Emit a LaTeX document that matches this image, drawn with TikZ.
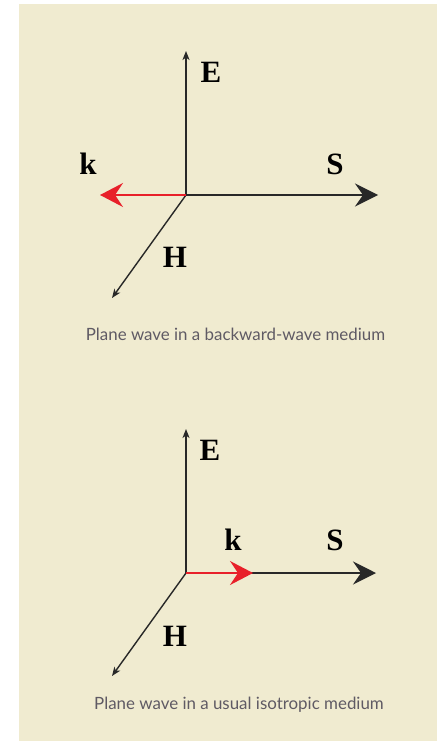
\documentclass[tikz,border=0pt]{standalone}
\usepackage{fontspec}
\setmainfont{Liberation Serif}
\newfontfamily\capfont{Lato}
\usetikzlibrary{arrows.meta}
\definecolor{panel}{RGB}{240,235,208}
\definecolor{axis}{RGB}{40,40,40}
\definecolor{kred}{RGB}{232,32,42}
\definecolor{captxt}{RGB}{95,90,100}
\tikzset{
  vec/.style={draw=axis, line width=1.4pt},
  smalltip/.style={-{Stealth[length=9pt,width=7pt,inset=2.5pt]}},
  bigtip/.style={-{Stealth[length=23pt,width=23pt,inset=8pt]}},
  redvec/.style={draw=kred, line width=1.6pt, -{Stealth[length=23pt,width=24pt,inset=8pt]}},
  lbl/.style={font=\fontsize{31}{36}\selectfont\bfseries, inner sep=0pt, text=black},
  captext/.style={font=\capfont\fontsize{16.9}{20}\selectfont, text=captxt, anchor=base, inner sep=0pt}
}
\begin{document}
\begin{tikzpicture}[x=1pt,y=-1pt]
\useasboundingbox (0,0) rectangle (437,741);
\fill[panel] (19,4) rectangle (437,741);
% top diagram
\coordinate (O1) at (186,195);
\coordinate (E1) at (186,51);
\coordinate (S1) at (378,195);
\coordinate (K1) at (100,195);
\coordinate (H1) at (112,298);
\draw[vec,smalltip] (O1) -- (E1);
\draw[vec,bigtip] (O1) -- (S1);
\draw[vec,smalltip] (O1) -- (H1);
\draw[redvec] (O1) -- (K1);
\node[lbl] (e1) at (211,72) {E};
\node[lbl] (k1) at (88,164) {k};
\node[lbl] (s1) at (335,164) {S};
\node[lbl] (h1) at (175,257) {H};
\node[captext] (c1) at (235.5,340) {Plane wave in a backward-wave medium};
% bottom diagram
\coordinate (O2) at (186,573);
\coordinate (E2) at (186,429);
\coordinate (S2) at (376,573);
\coordinate (K2) at (253,573);
\coordinate (H2) at (112,676);
\draw[vec,smalltip] (O2) -- (E2);
\draw[vec,bigtip] (O2) -- (S2);
\draw[vec,smalltip] (O2) -- (H2);
\draw[redvec] (O2) -- (K2);
\node[lbl] (e2) at (210,450) {E};
\node[lbl] (k2) at (233,540) {k};
\node[lbl] (s2) at (335,540) {S};
\node[lbl] (h2) at (175,636) {H};
\node[captext] (c2) at (239,709) {Plane wave in a usual isotropic medium};
\end{tikzpicture}
\end{document}
